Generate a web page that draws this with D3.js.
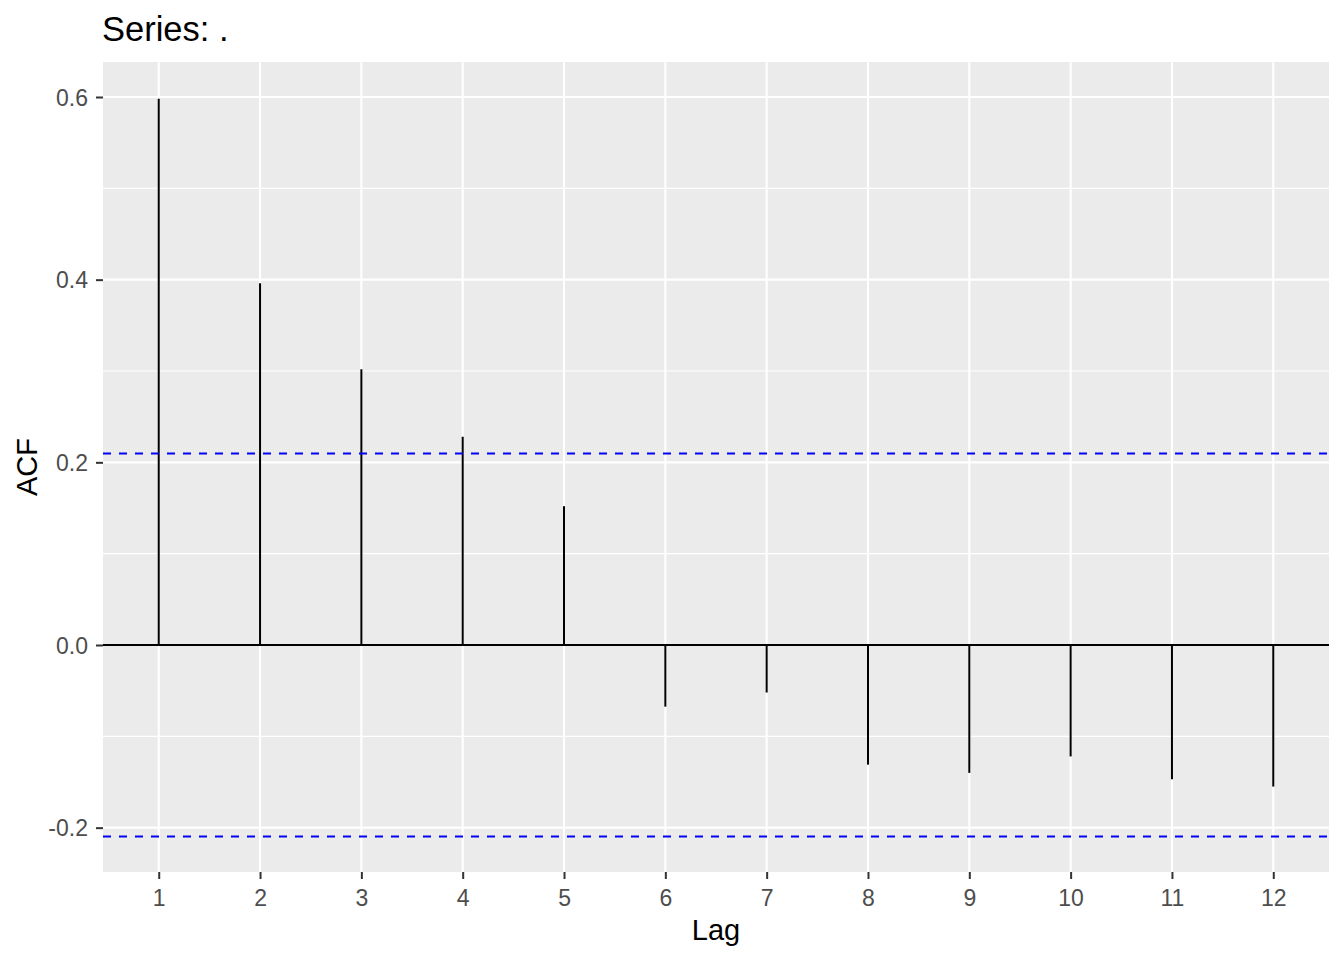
<!DOCTYPE html>
<html>
<head>
<meta charset="utf-8">
<script src="https://cdn.jsdelivr.net/npm/d3@7"></script>
<style>
  html, body { margin: 0; padding: 0; background: #ffffff; }
  svg { display: block; font-family: "Liberation Sans", Arial, sans-serif; }
</style>
</head>
<body>
<svg id="chart" width="1344" height="960"></svg>
<script>
// ---- data ----
const lags = [1, 2, 3, 4, 5, 6, 7, 8, 9, 10, 11, 12];
const acfValues = [0.598, 0.396, 0.302, 0.228, 0.152, -0.0675, -0.052, -0.131, -0.140, -0.122, -0.147, -0.155];
const ciLimit = 0.2097;
const yTicks = [-0.2, 0.0, 0.2, 0.4, 0.6];
const yTickLabels = ["-0.2", "0.0", "0.2", "0.4", "0.6"];
const yMinorTicks = [-0.1, 0.1, 0.3, 0.5];
const xTicks = lags;
const titleText = "Series: .";
const xLabel = "Lag";
const yLabel = "ACF";

// ---- layout ----
const svg = d3.select("#chart");
const panel = { left: 103, right: 1329, top: 62, bottom: 872 };

const x = d3.scaleLinear().domain([0.45, 12.55]).range([panel.left, panel.right]);
const y = d3.scaleLinear().domain([-0.24854, 0.63832]).range([panel.bottom, panel.top]);

// panel background
svg.append("rect")
  .attr("x", panel.left).attr("y", panel.top)
  .attr("width", panel.right - panel.left)
  .attr("height", panel.bottom - panel.top)
  .attr("fill", "#EBEBEB");

// minor grid
svg.append("g").selectAll("line").data(yMinorTicks).join("line")
  .attr("x1", panel.left).attr("x2", panel.right)
  .attr("y1", d => y(d)).attr("y2", d => y(d))
  .attr("stroke", "#ffffff").attr("stroke-width", 1.1);

// major grid
svg.append("g").selectAll("line").data(yTicks).join("line")
  .attr("x1", panel.left).attr("x2", panel.right)
  .attr("y1", d => y(d)).attr("y2", d => y(d))
  .attr("stroke", "#ffffff").attr("stroke-width", 2.1);
svg.append("g").selectAll("line").data(xTicks).join("line")
  .attr("y1", panel.top).attr("y2", panel.bottom)
  .attr("x1", d => x(d)).attr("x2", d => x(d))
  .attr("stroke", "#ffffff").attr("stroke-width", 2.1);

// zero line
svg.append("line")
  .attr("x1", panel.left).attr("x2", panel.right)
  .attr("y1", y(0)).attr("y2", y(0))
  .attr("stroke", "#000000").attr("stroke-width", 2);

// acf segments
svg.append("g").selectAll("line").data(lags).join("line")
  .attr("x1", d => x(d)).attr("x2", d => x(d))
  .attr("y1", y(0)).attr("y2", (d, i) => y(acfValues[i]))
  .attr("stroke", "#000000").attr("stroke-width", 2);

// confidence lines
svg.append("g").selectAll("line").data([ciLimit, -ciLimit]).join("line")
  .attr("x1", panel.left).attr("x2", panel.right)
  .attr("y1", d => y(d)).attr("y2", d => y(d))
  .attr("stroke", "#0000FF").attr("stroke-width", 2)
  .attr("stroke-dasharray", "8,8");

// axes
const yAxis = d3.axisLeft(y).tickValues(yTicks)
  .tickFormat((d, i) => yTickLabels[i]).tickSize(7).tickPadding(8);
const gy = svg.append("g").attr("transform", `translate(${panel.left},0)`).call(yAxis);
const xAxis = d3.axisBottom(x).tickValues(xTicks).tickFormat(d3.format("d")).tickSize(7).tickPadding(5);
const gx = svg.append("g").attr("transform", `translate(0,${panel.bottom})`).call(xAxis);

[gx, gy].forEach(g => {
  g.select(".domain").remove();
  g.selectAll(".tick line").attr("stroke", "#333333").attr("stroke-width", 2);
  g.selectAll(".tick text")
    .attr("fill", "#4D4D4D")
    .style("font-size", "23px")
    .style("font-family", "'Liberation Sans', Arial, sans-serif");
});
gy.selectAll(".tick text").attr("dy", "0.36em");
gx.selectAll(".tick text").attr("y", 34).attr("dy", 0);

// axis titles
svg.append("text")
  .attr("x", (panel.left + panel.right) / 2).attr("y", 940)
  .attr("text-anchor", "middle")
  .style("font-size", "29px").attr("fill", "#000000")
  .text(xLabel);
svg.append("text")
  .attr("transform", `translate(37,${(panel.top + panel.bottom) / 2}) rotate(-90)`)
  .attr("text-anchor", "middle")
  .style("font-size", "29px").attr("fill", "#000000")
  .text(yLabel);

// title
svg.append("text")
  .attr("x", 102).attr("y", 41)
  .style("font-size", "34.5px").attr("fill", "#000000")
  .text(titleText);
</script>
</body>
</html>
